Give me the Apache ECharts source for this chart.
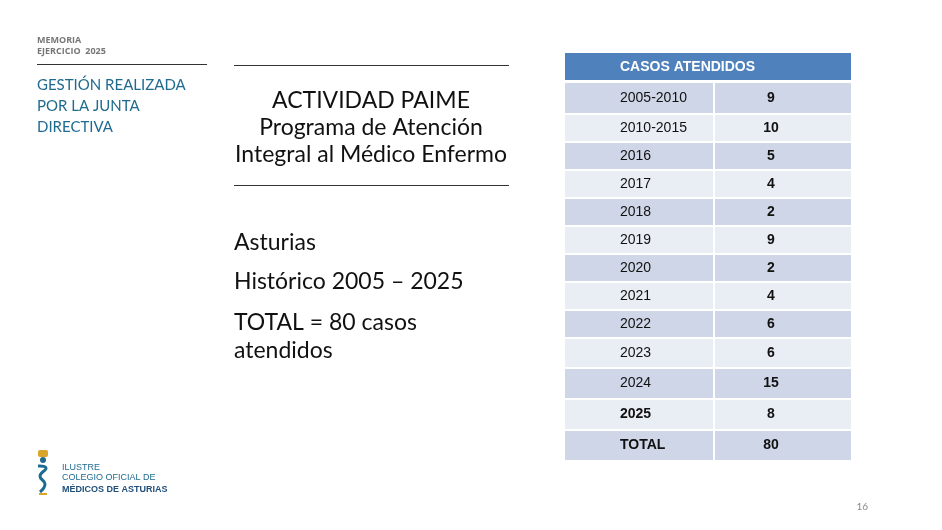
<!DOCTYPE html>
<html><head><meta charset="utf-8">
<script src="https://cdn.jsdelivr.net/npm/echarts@6/dist/echarts.min.js"></script>
<style>html,body{margin:0;background:#fff}#c{width:942px;height:530px}</style>
</head><body><div id="c"></div>
<script>
var chart = echarts.init(document.getElementById('c'));

var periods = ['2005-2010','2010-2015','2016','2017','2018','2019','2020','2021','2022','2023','2024','2025','TOTAL'];
var cases = [9,10,5,4,2,9,2,4,6,6,15,8,80];
var tableTitle = 'CASOS ATENDIDOS';

// row layout
var rowH = [32,28,28,28,28,28,28,28,28,30,31,31,31];
var tableX = 565, tableW = 286, colX = 713, rowTop = 83;

var g = [];
var font = 'Liberation Sans, Arial, sans-serif';
var sans = 'Lato, "Open Sans", sans-serif';

g.push({type:'rect', shape:{x:tableX,y:53,width:tableW,height:27}, style:{fill:'#4f81bd'}});
g.push({type:'text', x:620, y:67, style:{text:tableTitle, font:'bold 14px '+font, fill:'#fff', verticalAlign:'middle'}});
var yy = rowTop;
for (var i = 0; i < periods.length; i++) {
  var h = rowH[i];
  g.push({type:'rect', shape:{x:tableX,y:yy,width:tableW,height:h-2}, style:{fill: i%2===0 ? '#cfd6e7' : '#e9edf4'}});
  g.push({type:'rect', shape:{x:colX,y:yy,width:2,height:h-2}, style:{fill:'#fff'}});
  var bold = i >= 11;
  g.push({type:'text', x:620, y:yy+h/2-1, style:{text:periods[i], font:(bold?'bold ':'')+'14px '+font, fill:'#111', verticalAlign:'middle'}});
  g.push({type:'text', x:771, y:yy+h/2-1, style:{text:String(cases[i]), font:'bold 14px '+font, fill:'#111', align:'center', verticalAlign:'middle'}});
  yy += h;
}

// left header
g.push({type:'text', x:37, y:35, style:{text:'MEMORIA\nEJERCICIO  2025', font:'bold 9px "Open Sans", sans-serif', fill:'#777', lineHeight:11}});
g.push({type:'rect', shape:{x:37,y:64,width:170,height:1}, style:{fill:'#333'}});
g.push({type:'text', x:37, y:75, style:{text:'GESTIÓN REALIZADA\nPOR LA JUNTA\nDIRECTIVA', font:'15px '+sans, fill:'#1f6a8f', lineHeight:21}});

// title block
g.push({type:'rect', shape:{x:234,y:65,width:275,height:1}, style:{fill:'#333'}});
g.push({type:'rect', shape:{x:234,y:185,width:275,height:1}, style:{fill:'#333'}});
g.push({type:'text', x:371, y:87, style:{text:'ACTIVIDAD PAIME\nPrograma de Atención\nIntegral al Médico Enfermo', font:'23px '+sans, fill:'#111', align:'center', lineHeight:27}});
g.push({type:'text', x:234, y:231, style:{text:'Asturias', font:'23px '+sans, fill:'#111'}});
g.push({type:'text', x:234, y:270, style:{text:'Histórico 2005 – 2025', font:'23px '+sans, fill:'#111'}});
g.push({type:'text', x:234, y:309, style:{text:'TOTAL = 80 casos\natendidos', font:'23px '+sans, fill:'#111', lineHeight:28}});

// logo
g.push({type:'rect', shape:{x:38,y:450,width:10,height:7,r:2}, style:{fill:'#d9a52b'}});
g.push({type:'circle', shape:{cx:43,cy:460,r:3}, style:{fill:'#1f6a8f'}});
g.push({type:'polyline', shape:{points:[[38,466],[46,468],[40,476],[45,484],[40,492]], smooth:0.5}, style:{stroke:'#1f6a8f', lineWidth:3, fill:null}});
g.push({type:'rect', shape:{x:39,y:493,width:8,height:2}, style:{fill:'#d9a52b'}});
g.push({type:'text', x:62, y:463, style:{text:'ILUSTRE\nCOLEGIO OFICIAL DE', font:'9px '+font, fill:'#1f6a8f', lineHeight:10}});
g.push({type:'text', x:62, y:485, style:{text:'MÉDICOS DE ASTURIAS', font:'bold 9px '+font, fill:'#1f4f7a'}});

g.push({type:'text', x:868, y:507, style:{text:'16', font:'10px '+sans, fill:'#888', align:'right', verticalAlign:'middle'}});

chart.setOption({animation:false, graphic:{elements:g}});
</script></body></html>
